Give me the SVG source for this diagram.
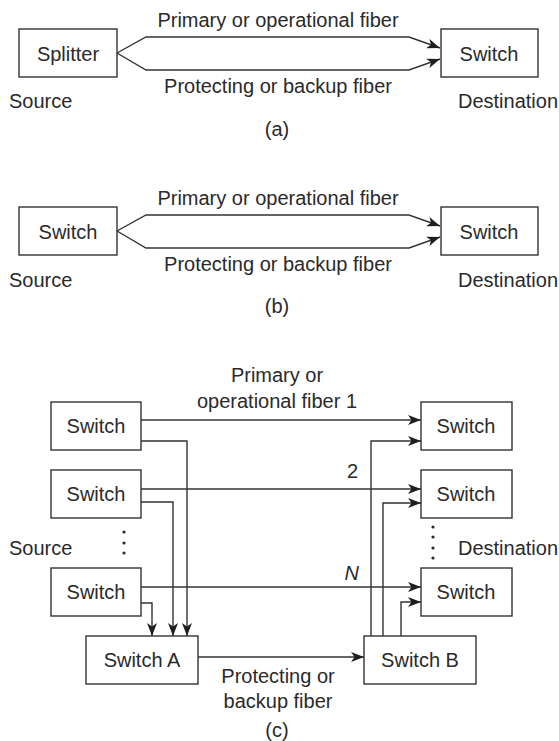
<svg xmlns="http://www.w3.org/2000/svg" width="559" height="741" viewBox="0 0 559 741">
<style>
  .box { fill: #fff; stroke: #333; stroke-width: 1.4; }
  .ln { fill: none; stroke: #333; stroke-width: 1.4; }
  .arr { marker-end: url(#ah); }
  text { font-family: "Liberation Sans", Arial, sans-serif; font-size: 20px; fill: #2a2a2a; }
  .c { text-anchor: middle; }
  .e { text-anchor: end; }
  .dot { fill: #2a2a2a; }
</style>
<defs>
  <marker id="ah" markerUnits="userSpaceOnUse" markerWidth="15" markerHeight="12" refX="13" refY="5" orient="auto">
    <path d="M0,0 L13,5 L0,10 L3.5,5 z" fill="#1e1e1e"/>
  </marker>
</defs>
<rect width="559" height="741" fill="#fff"/>

<!-- (a) -->
<g id="a-splitter"><rect class="box" x="19" y="29" width="98" height="48"/><text class="c" x="68" y="61">Splitter</text></g>
<g id="a-switch"><rect class="box" x="441" y="29" width="97" height="48"/><text class="c" x="489" y="61">Switch</text></g>
<g id="a-connectors">
  <polyline class="ln arr" points="117,53 146,37 409,37 440,48"/>
  <polyline class="ln arr" points="117,53 146,70 409,70 440,59"/>
</g>
<g id="a-labels">
  <text class="c" x="278" y="27">Primary or operational fiber</text>
  <text class="c" x="278" y="93">Protecting or backup fiber</text>
  <text x="9" y="108">Source</text>
  <text x="458" y="108">Destination</text>
  <text class="c" x="277" y="136">(a)</text>
</g>

<!-- (b) -->
<g id="b-switch-src"><rect class="box" x="19" y="207" width="98" height="48"/><text class="c" x="68" y="239">Switch</text></g>
<g id="b-switch-dst"><rect class="box" x="441" y="207" width="97" height="48"/><text class="c" x="489" y="239">Switch</text></g>
<g id="b-connectors">
  <polyline class="ln arr" points="117,231 146,215 409,215 440,226"/>
  <polyline class="ln arr" points="117,231 146,248 409,248 440,237"/>
</g>
<g id="b-labels">
  <text class="c" x="278" y="205">Primary or operational fiber</text>
  <text class="c" x="278" y="271">Protecting or backup fiber</text>
  <text x="9" y="287">Source</text>
  <text x="458" y="287">Destination</text>
  <text class="c" x="277" y="313">(b)</text>
</g>

<!-- (c) -->
<g id="c-src1"><rect class="box" x="51" y="402" width="90" height="48"/><text class="c" x="96" y="433">Switch</text></g>
<g id="c-src2"><rect class="box" x="51" y="470" width="90" height="48"/><text class="c" x="96" y="501">Switch</text></g>
<g id="c-src3"><rect class="box" x="51" y="568" width="90" height="48"/><text class="c" x="96" y="599">Switch</text></g>
<g id="c-dst1"><rect class="box" x="421" y="402" width="91" height="48"/><text class="c" x="466" y="433">Switch</text></g>
<g id="c-dst2"><rect class="box" x="421" y="470" width="91" height="48"/><text class="c" x="466" y="501">Switch</text></g>
<g id="c-dst3"><rect class="box" x="421" y="568" width="91" height="48"/><text class="c" x="466" y="599">Switch</text></g>
<g id="c-switchA"><rect class="box" x="86" y="636" width="112" height="48"/><text class="c" x="142" y="667">Switch A</text></g>
<g id="c-switchB"><rect class="box" x="364" y="636" width="112" height="48"/><text class="c" x="420" y="667">Switch B</text></g>

<g id="c-connectors">
  <polyline class="ln arr" points="141,420 421,420"/>
  <polyline class="ln arr" points="141,489 421,489"/>
  <polyline class="ln arr" points="141,587 421,587"/>
  <polyline class="ln arr" points="141,441 187,441 187,636"/>
  <polyline class="ln arr" points="141,502 173,502 173,636"/>
  <polyline class="ln arr" points="141,603 152,603 152,636"/>
  <polyline class="ln arr" points="198,657 364,657"/>
  <polyline class="ln arr" points="371,636 371,441 421,441"/>
  <polyline class="ln arr" points="383,636 383,503 421,503"/>
  <polyline class="ln arr" points="401,636 401,602 421,602"/>
</g>

<g id="c-labels">
  <text class="c" x="277" y="382">Primary or</text>
  <text class="c" x="277" y="408">operational fiber 1</text>
  <text class="e" x="358" y="478">2</text>
  <text class="e" x="359" y="580" font-style="italic">N</text>
  <text x="9" y="555">Source</text>
  <text x="458" y="555">Destination</text>
  <text class="c" x="278" y="683">Protecting or</text>
  <text class="c" x="278" y="708">backup fiber</text>
  <text class="c" x="277" y="737">(c)</text>
  <circle class="dot" cx="124" cy="532" r="1.6"/>
  <circle class="dot" cx="124" cy="543" r="1.6"/>
  <circle class="dot" cx="124" cy="553" r="1.6"/>
  <circle class="dot" cx="433" cy="527" r="1.6"/>
  <circle class="dot" cx="433" cy="537" r="1.6"/>
  <circle class="dot" cx="433" cy="548" r="1.6"/>
  <circle class="dot" cx="433" cy="558" r="1.6"/>
</g>
</svg>
